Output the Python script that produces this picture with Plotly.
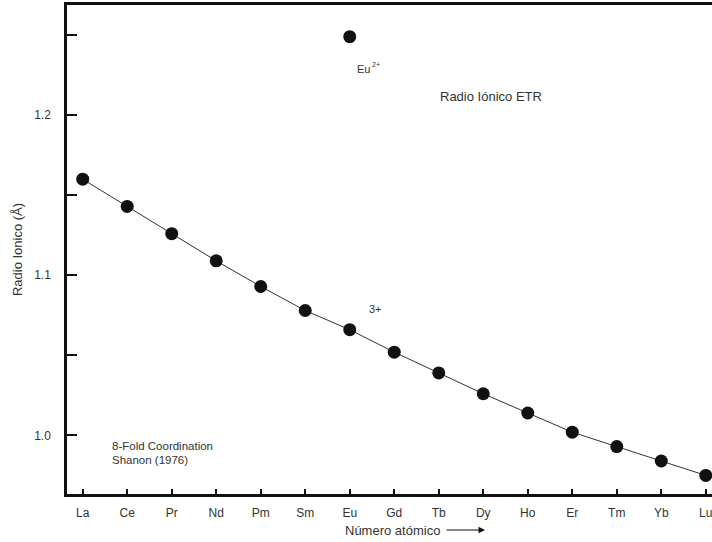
import plotly.graph_objects as go

elements = ["La", "Ce", "Pr", "Nd", "Pm", "Sm", "Eu", "Gd", "Tb", "Dy", "Ho", "Er", "Tm", "Yb", "Lu"]
radius_3plus = [1.160, 1.143, 1.126, 1.109, 1.093, 1.078, 1.066, 1.052, 1.039, 1.026, 1.014, 1.002, 0.993, 0.984, 0.975]
eu2_element = ["Eu"]
eu2_radius = [1.249]
y_tickvals = [1.0, 1.05, 1.1, 1.15, 1.2, 1.25]
y_ticktext = ["1.0", "", "1.1", "", "1.2", ""]

font_family = "Liberation Sans, Arial, sans-serif"
txt = "#333333"

W, H = 712, 542
L, T, B = 67, 5, 494
PW, PH = W - L, B - T


def px(x):
    return (x - L) / PW


def py(y):
    return (B - y) / PH


fig = go.Figure()
fig.add_trace(go.Scatter(
    x=elements, y=radius_3plus, mode="lines+markers",
    line=dict(color="#333333", width=1),
    marker=dict(color="#111111", size=13),
    showlegend=False, cliponaxis=False,
))
fig.add_trace(go.Scatter(
    x=eu2_element, y=eu2_radius, mode="markers",
    marker=dict(color="#111111", size=13),
    showlegend=False, cliponaxis=False,
))

fig.update_layout(
    width=W, height=H,
    margin=dict(l=L, r=0, t=T, b=H - B, pad=0),
    paper_bgcolor="white", plot_bgcolor="white",
    font=dict(family=font_family, size=12, color=txt),
    xaxis=dict(
        type="category", categoryorder="array", categoryarray=elements,
        range=[-0.353, 14.14], automargin=False,
        showgrid=False, zeroline=False,
        showline=True, linecolor="#111111", linewidth=2.5, mirror=True,
        ticks="inside", ticklen=5, tickwidth=2, tickcolor="#111111",
        tickfont=dict(size=12, color=txt), ticklabelstandoff=6,
    ),
    yaxis=dict(
        range=[0.9634, 1.2688], automargin=False,
        tickvals=y_tickvals, ticktext=y_ticktext,
        showgrid=False, zeroline=False,
        showline=True, linecolor="#111111", linewidth=2.5,
        ticks="inside", ticklen=10, tickwidth=2, tickcolor="#111111",
        tickfont=dict(size=12, color=txt), ticklabelstandoff=11,
        title=dict(text="Radio Ionico (Å)", font=dict(size=13, color=txt), standoff=9),
    ),
)


def label(text, x, y, size):
    fig.add_annotation(text=text, x=px(x), y=py(y), xref="paper", yref="paper",
                       xanchor="left", yanchor="middle", showarrow=False,
                       font=dict(size=size, color=txt))


label("Eu", 355, 69, 11)
label("2+", 370, 64, 7)
label("Radio Iónico ETR", 438, 96, 13)
label("3+", 367, 309, 11)
label("8-Fold Coordination", 110, 446, 11.5)
label("Shanon (1976)", 110, 460, 11.5)
label("Número atómico", 343, 530, 13)

fig.add_annotation(text="", xref="paper", yref="paper",
                   x=px(485), y=py(530), ax=-40, ay=0,
                   showarrow=True, arrowhead=2, arrowsize=1.3, arrowwidth=1, arrowcolor="#111111")

fig.write_html(
    "out.html",
    config={"displayModeBar": False},
    post_script="document.body.style.margin='0';document.body.style.overflow='hidden';",
)
